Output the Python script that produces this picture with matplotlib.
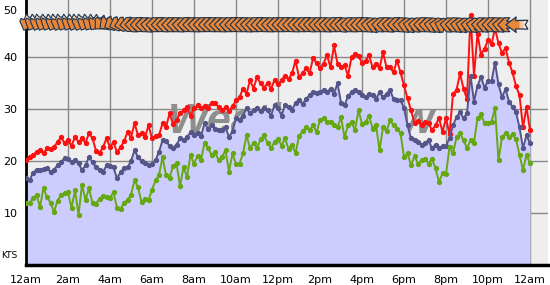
import matplotlib
matplotlib.use('Agg')
import matplotlib.pyplot as plt
import numpy as np
from matplotlib.patches import Polygon
from matplotlib.transforms import Affine2D

# wind speed (kts), one reading every 10 minutes, 12am -> 12am
gust = [20.2, 20.8, 21.2, 21.8, 22.1, 21.5,
        22.5, 22.3, 22.7, 23.7, 24.6, 23.5,
        24.0, 23.0, 24.6, 23.7, 24.4, 23.5,
        25.4, 24.4, 22.0, 21.5, 22.7, 24.4,
        22.7, 23.7, 21.7, 22.7, 23.8, 25.6,
        24.5, 27.3, 25.0, 25.4, 24.6, 26.9,
        24.4, 24.8, 25.0, 27.3, 26.5, 29.2,
        27.2, 27.9, 29.2, 29.8, 30.4, 28.8,
        30.2, 30.8, 30.2, 30.6, 30.2, 31.3,
        31.3, 30.4, 29.8, 30.4, 29.6, 30.6,
        31.7, 32.3, 34.0, 33.0, 35.6, 34.0,
        36.2, 35.0, 34.2, 35.0, 34.0, 35.6,
        34.8, 35.6, 36.5, 35.8, 36.9, 39.4,
        36.2, 36.9, 37.9, 36.9, 39.8, 38.9,
        37.9, 38.8, 40.4, 38.1, 42.3, 38.8,
        38.1, 38.5, 36.5, 40.0, 40.6, 40.2,
        39.0, 39.4, 40.4, 38.1, 38.8, 37.9,
        41.0, 38.1, 38.1, 37.1, 39.4, 37.1,
        34.6, 32.1, 29.8, 27.3, 27.8, 26.9,
        27.5, 27.3, 26.0, 26.9, 28.3, 25.6,
        28.3, 25.2, 33.0, 33.7, 36.9, 34.0,
        32.0, 48.1, 36.5, 44.6, 40.5, 41.7,
        43.3, 42.5, 45.6, 42.7, 40.8, 41.8,
        39.0, 37.1, 34.5, 32.7, 26.5, 30.4, 26.0]

avg = [16.7, 16.3, 17.8, 18.3, 18.3, 18.5,
       18.6, 17.9, 18.4, 19.2, 19.8, 20.6,
       20.4, 19.8, 20.2, 19.6, 18.3, 19.2,
       20.8, 19.8, 18.8, 18.3, 17.9, 19.2,
       19.0, 18.8, 16.7, 17.9, 18.6, 18.8,
       20.0, 22.1, 20.8, 20.0, 19.6, 19.2,
       19.5, 20.2, 21.8, 24.0, 23.8, 23.0,
       22.5, 23.2, 24.4, 24.0, 24.6, 25.6,
       25.0, 25.4, 24.8, 27.3, 26.3, 26.9,
       26.3, 26.1, 26.0, 26.6, 24.6, 25.8,
       28.3, 28.0, 28.8, 30.2, 29.2, 29.8,
       30.2, 29.6, 30.2, 29.8, 28.8, 30.8,
       30.2, 28.8, 30.8, 30.4, 29.8, 31.3,
       31.8, 31.0, 32.0, 32.7, 33.3, 33.1,
       33.3, 33.7, 33.3, 34.0, 33.0, 35.0,
       31.3, 30.8, 32.5, 33.3, 33.7, 33.3,
       32.7, 32.3, 33.0, 32.7, 32.0, 33.3,
       32.3, 33.0, 33.7, 32.0, 31.7, 31.8,
       30.2, 26.9, 24.4, 24.0, 23.7, 23.2,
       23.5, 24.0, 22.5, 23.2, 22.6, 22.9,
       22.9, 24.5, 26.9, 28.5, 29.4, 28.3,
       29.2, 36.5, 31.5, 34.5, 36.2, 34.2,
       35.4, 35.4, 39.0, 34.8, 32.3, 33.9,
       31.5, 30.5, 29.4, 26.5, 22.5, 25.0, 23.5]

lull = [11.9, 11.9, 12.9, 13.5, 11.2, 14.8,
        13.1, 12.0, 10.2, 12.4, 13.5, 13.8,
        14.0, 11.0, 14.4, 9.6, 15.5, 12.5,
        14.8, 11.9, 11.8, 12.8, 13.2, 13.1,
        13.0, 14.0, 11.0, 10.8, 11.9, 12.6,
        13.5, 16.3, 15.0, 12.1, 12.8, 12.5,
        14.5, 16.3, 17.3, 20.8, 17.3, 16.8,
        19.0, 19.6, 15.2, 18.8, 17.0, 21.2,
        19.5, 21.0, 20.2, 23.5, 22.6, 21.2,
        21.8, 20.2, 20.8, 22.1, 18.0, 21.5,
        19.5, 19.5, 21.5, 25.0, 22.5, 23.5,
        22.5, 24.2, 25.0, 23.5, 22.5, 23.7,
        24.3, 23.0, 24.4, 22.4, 23.2, 21.5,
        24.8, 25.8, 26.5, 26.0, 26.9, 25.6,
        27.9, 28.3, 27.6, 27.6, 27.0, 26.5,
        28.5, 24.6, 26.9, 27.5, 26.0, 29.8,
        27.2, 27.5, 28.8, 26.3, 27.0, 22.1,
        26.5, 25.8, 27.9, 26.9, 26.2, 25.4,
        20.8, 21.5, 19.2, 21.0, 19.5, 20.2,
        20.5, 19.5, 20.5, 18.6, 16.0, 17.7,
        17.5, 22.7, 21.5, 24.6, 25.4, 24.0,
        22.5, 24.0, 23.6, 28.3, 29.0, 27.3,
        27.3, 27.6, 30.2, 20.2, 24.6, 25.4,
        24.6, 25.2, 24.2, 21.2, 18.3, 21.2, 19.6]

# wind direction (degrees "from"), one every 15 minutes; last one drawn big
dir_from = [22, 25, 20, 24, 26, 22, 20, 25, 27, 22, 20, 24, 28, 32,
            45, 55, 62, 70, 78, 85,
            92, 88, 90, 95, 90, 88, 92, 90, 90, 93, 88, 90, 92, 90, 88, 90,
            90, 92, 90, 88, 90, 90, 93, 90, 88, 90, 92, 90, 90, 88, 90, 92,
            90, 88, 92, 90, 90, 93, 90, 88, 95, 90, 92, 88, 90, 95, 100, 92,
            90, 95, 88, 92, 98, 100, 95, 90, 92, 98, 100, 105, 95, 92, 98, 100,
            95, 100, 92, 95, 90, 92, 95, 90]
last_dir = 90
last_hour = 23.35

tick_labels = ['12am', '2am', '4am', '6am', '8am', '10am', '12pm',
               '2pm', '4pm', '6pm', '8pm', '10pm', '12am']

hours = np.arange(len(avg)) / 6.0
dir_hours = np.arange(len(dir_from)) * 0.25

fig = plt.figure(figsize=(5.5, 2.85), dpi=100)
ax = fig.add_axes([26 / 550, 20 / 285, 522 / 550, 265 / 285])
ax.set_facecolor('#eeeeee')

ax.set_xlim(0, 522 / 21)
ax.set_ylim(0, 265 / 5.19)

ax.set_xticks(np.arange(0, 25, 2))
ax.set_xticklabels(tick_labels)
ax.set_yticks([10, 20, 30, 40, 50])
ax.tick_params(length=0, labelsize=8)
ax.tick_params(axis='y', pad=6)
ax.tick_params(axis='x', pad=7)
ax.grid(True, color='#888888', lw=1.0, zorder=0)
ax.get_ygridlines()[-1].set_visible(False)
ax.yaxis.get_major_ticks()[-1].label1.set_verticalalignment('top')
ax.set_axisbelow(True)

for s in ['top', 'right']:
    ax.spines[s].set_visible(False)
ax.spines['left'].set_linewidth(2)
ax.spines['bottom'].set_linewidth(2.5)

# watermark sits under the fill
ax.text(13.1, 27.5, 'WeatherFlow', fontsize=31, fontweight='bold', style='italic',
        family='Liberation Sans', color='#8e8e8e', ha='center', va='center', zorder=1)

ax.fill_between(hours, avg, 0, color='#ccccff', lw=0, zorder=2)

ax.plot(hours, gust, color='#ff1010', lw=1.4, marker='o', ms=2.8, zorder=4)
ax.plot(hours, avg, color='#55558a', lw=1.4, marker='o', ms=2.8, zorder=4)
ax.plot(hours, lull, color='#66a811', lw=1.4, marker='o', ms=2.8, zorder=4)

# direction arrow glyphs in pixels, pointing +x
# chevron head (tiles when packed side by side) + shaft + notched tail
chevron = [(6, 0), (-1, 7), (-6.25, 7), (-2.65, 3.4), (-10, 3.6), (-8, 0),
           (-10, -3.6), (-2.65, -3.4), (-6.25, -7), (-1, -7)]
# solid head, for arrows that are not packed along their own axis
solid = [(6, 0), (-1, 7), (-4, 7), (-4, 3.6), (-10, 3.6), (-8, 0),
         (-10, -3.6), (-4, -3.6), (-4, -7), (-1, -7)]
small_tail = [(-5, 3.55), (-10, 3.6), (-8, 0), (-10, -3.6), (-5, -3.55)]
big = [(10, 0), (0, 7.5), (1, 4), (-11, 4.2), (-8.5, 0), (-11, -4.2), (1, -4), (0, -7.5)]
big_tail1 = [(-3, 4.1), (-11, 4.2), (-8.5, 0), (-11, -4.2), (-3, -4.1)]
big_tail2 = [(-7, 4.15), (-11, 4.2), (-8.5, 0), (-11, -4.2), (-7, -4.15)]

orange = '#e8873a'
edge = '#1c3550'


def draw_arrow(t, d, yv, scale, layers, lw):
    cx, cy = ax.transData.transform((t, yv))
    ang = 90 - (d + 180)
    tr = Affine2D().scale(scale).rotate_deg(ang).translate(cx, cy)
    for verts, fc, ec in layers:
        ax.add_patch(Polygon(verts, closed=True, fc=fc, ec=ec, lw=lw,
                             transform=tr, clip_on=False, zorder=6))


big_layers = [(big, orange, 'none'), (big_tail1, '#f5c49a', 'none'),
              (big_tail2, '#fdf0e4', 'none'), (big, 'none', edge)]

for t, d in zip(dir_hours, dir_from):
    glyph = chevron if abs(d - 90) < 12 else solid
    layers = [(glyph, orange, 'none'), (small_tail, '#fae3cf', 'none'),
              (glyph, 'none', edge)]
    draw_arrow(t, d, 46.3, 1.0, layers, 0.8)
draw_arrow(last_hour, last_dir, 46.3, 1.05, big_layers, 0.9)

fig.text(1 / 550, 1 - 255 / 285, 'KTS', fontsize=6.5, va='center', ha='left')

fig.savefig('out.png', dpi=100)
